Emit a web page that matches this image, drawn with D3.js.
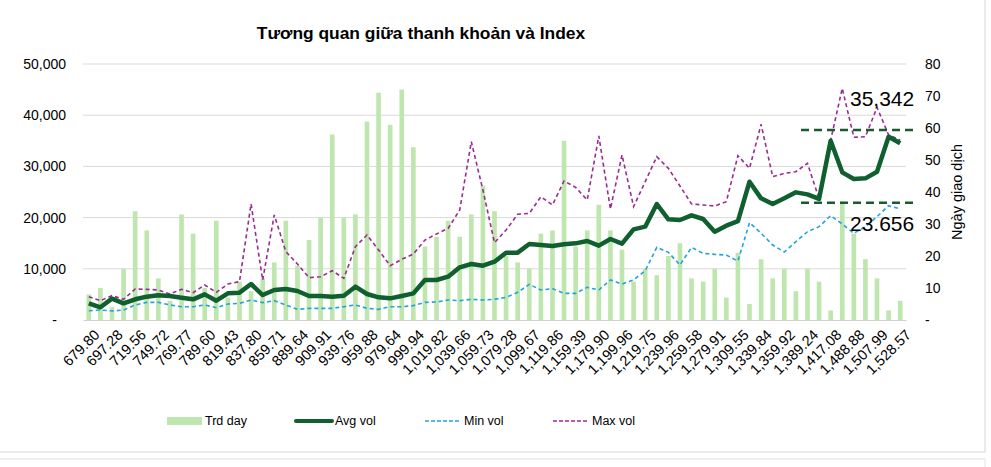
<!DOCTYPE html>
<html>
<head>
<meta charset="utf-8">
<script src="https://cdnjs.cloudflare.com/ajax/libs/d3/7.8.5/d3.min.js"></script>
<style>
  body { margin: 0; background: #fff; font-family: "Liberation Sans", Arial, sans-serif; }
  svg text { fill: #000; }
</style>
</head>
<body>
<svg id="chart" width="991" height="467"></svg>
<script>
// liquidity vs index level

// index level shown under every other bar (71 bars)
var tickLabels = ['679.80', '697.28', '719.56', '749.72', '769.77', '789.60', '819.43', '837.80',
  '859.71', '889.64', '909.91', '939.76', '959.88', '979.64', '999.94', '1,019.82', '1,039.66',
  '1,059.73', '1,079.28', '1,099.67', '1,119.86', '1,159.39', '1,179.90', '1,199.96', '1,219.75',
  '1,239.96', '1,259.58', '1,279.91', '1,309.55', '1,339.84', '1,359.92', '1,389.24', '1,417.08',
  '1,488.88', '1,507.99', '1,528.57'];

// trading days per bucket (right axis)
var trdDay = [8, 10, 4, 16, 34, 28, 13, 6, 33, 27, 10, 31, 7, 12, 9, 13, 18, 31, 17, 25,
  32, 58, 32, 33, 62, 71, 61, 72, 54, 23, 26, 31, 26, 33, 42, 34, 20, 18, 16, 27,
  28, 56, 23, 28, 36, 28, 22, 12, 16, 14, 20, 24, 13, 12, 16, 7, 21, 5, 19, 13,
  16, 9, 16, 12, 3, 37, 27, 19, 13, 3, 6];

// volumes (left axis)
var avgVol = [3260, 2480, 4170, 3260, 4040, 4560, 4820, 4690, 4360, 4040, 5010, 3770, 5210, 5340,
  7030, 4880, 5860, 6050, 5660, 4690, 4690, 4560, 4750, 6510, 5080, 4430, 4230, 4690, 5200,
  7810, 7810, 8460, 10290, 10940, 10610, 11390, 13150, 13150, 14840, 14650, 14450, 14780,
  14970, 15430, 14520, 15820, 14910, 17710, 18230, 22660, 19660, 19530, 20440, 19730, 17250,
  18430, 19300, 27010, 23760, 22660, 23760, 24930, 24540, 23656, 35020, 28840, 27540, 27670,
  28970, 35800, 34510];

var minVol = [1820, 1950, 1760, 1950, 2930, 3450, 3450, 2930, 2600, 2600, 2930, 2410, 3120, 3250,
  3910, 3390, 3780, 2930, 2080, 2280, 2280, 2280, 2600, 2930, 2280, 2080, 2600, 2600, 2800,
  3450, 3520, 3910, 3780, 4040, 3910, 4040, 4430, 5400, 6970, 5860, 6120, 5210,
  5210, 6380, 5860, 7810, 7030, 7810, 9630, 14190, 13220, 10740, 14190, 13020, 12820,
  12690, 11500, 19010, 16930, 14650, 13280, 15300, 17250, 18230, 20380, 18750, 16930, 18230,
  20180, 22330, 21680];

var maxVol = [4560, 3780, 4750, 4040, 6050, 5990, 5860, 5080, 5990, 5340, 6840, 5400, 7030, 7490,
  22660, 7810, 20510, 13350, 10940, 8270, 8460, 9630, 8140, 14320, 16600, 13670, 10610, 11850,
  12890, 15620, 16800, 17900, 21480, 34830, 25390, 15100, 17580, 20640, 20830, 24090, 22460,
  27150, 25910, 23440, 35940, 21680, 32230, 22140, 27010, 31900, 29620, 26170, 22660, 22460,
  22270, 23110, 32100, 29620, 38220, 27990, 28640, 28970, 30600, 23700, 35100, 45250, 35680,
  35800, 41540, 36130, 35160];

// dashed reference levels and their notes
var refLevels = [37100, 22900];
var refNotes = ['35,342', '23.656'];

var seriesNames = ['Trd day', 'Avg vol', 'Min vol', 'Max vol'];

var svg = d3.select('#chart');
var plotLeft = 83, plotRight = 906, plotTop = 64, plotBottom = 320;

// frame of the card
svg.append('rect').attr('x', -2).attr('y', -2).attr('width', 987).attr('height', 454)
  .attr('fill', 'none').attr('stroke', '#d6d6d6');
svg.append('rect').attr('x', -2).attr('y', 459).attr('width', 987).attr('height', 20)
  .attr('fill', 'none').attr('stroke', '#e2e2e2');

var x = d3.scaleBand().domain(d3.range(trdDay.length)).range([plotLeft, plotRight])
  .paddingInner(0.6).paddingOuter(0.3);
var yL = d3.scaleLinear().domain([0, 50000]).range([plotBottom, plotTop]);
var yR = d3.scaleLinear().domain([0, 80]).range([plotBottom, plotTop]);
var cx = function(i) { return x(i) + x.bandwidth() / 2; };

// gridlines
svg.append('g').selectAll('line').data(d3.range(10000, 50001, 10000)).join('line')
  .attr('x1', plotLeft).attr('x2', plotRight)
  .attr('y1', d => yL(d)).attr('y2', d => yL(d))
  .attr('stroke', '#d9d9d9').attr('stroke-width', 1);

// left axis
var gL = svg.append('g').attr('transform', 'translate(' + plotLeft + ',0)')
  .call(d3.axisLeft(yL).tickValues(d3.range(0, 50001, 10000)).tickSize(0).tickPadding(17)
    .tickFormat(d => d === 0 ? '-' : d3.format(',')(d)));
gL.select('.domain').remove();
gL.selectAll('text').style('font-size', '14px').style('font-family', 'Liberation Sans, Arial');
gL.selectAll('.tick').filter(d => d === 0).select('text').attr('x', -26);

// right axis
var gR = svg.append('g').attr('transform', 'translate(' + plotRight + ',0)')
  .call(d3.axisRight(yR).tickValues(d3.range(0, 81, 10)).tickSize(0).tickPadding(19)
    .tickFormat(d => d === 0 ? '-' : d));
gR.select('.domain').remove();
gR.selectAll('text').style('font-size', '14px').style('font-family', 'Liberation Sans, Arial');

svg.append('text')
  .attr('transform', 'translate(962,192) rotate(-90)')
  .attr('text-anchor', 'middle')
  .style('font-size', '14.5px')
  .text('Ngày giao dịch');

// bars: trading days
svg.append('g').selectAll('rect').data(trdDay).join('rect')
  .attr('x', (d, i) => x(i))
  .attr('width', x.bandwidth())
  .attr('y', d => yR(d))
  .attr('height', d => plotBottom - yR(d))
  .attr('fill', '#bfe6ae');

// bottom axis
var gX = svg.append('g').attr('transform', 'translate(0,' + plotBottom + ')')
  .call(d3.axisBottom(x).tickValues(d3.range(0, trdDay.length, 2)).tickSize(0)
    .tickFormat(i => tickLabels[i / 2]));
gX.select('.domain').attr('stroke', '#d0d0d0');
gX.selectAll('text')
  .style('font-size', '14.5px').style('font-family', 'Liberation Sans, Arial')
  .attr('text-anchor', 'end')
  .attr('x', 0).attr('y', 0).attr('dy', '0.75em')
  .attr('transform', 'translate(4,8) rotate(-45)');

// lines
var lineL = d3.line().x((d, i) => cx(i)).y(d => yL(d));

svg.append('path').datum(minVol).attr('d', lineL)
  .attr('fill', 'none').attr('stroke', '#23a3dd').attr('stroke-width', 1.6)
  .attr('stroke-dasharray', '4,3');
svg.append('path').datum(maxVol).attr('d', lineL)
  .attr('fill', 'none').attr('stroke', '#9a2b93').attr('stroke-width', 1.6)
  .attr('stroke-dasharray', '4,3');
svg.append('path').datum(avgVol).attr('d', lineL)
  .attr('fill', 'none').attr('stroke', '#0f5f2f').attr('stroke-width', 4.5)
  .attr('stroke-linejoin', 'round');

// reference levels
svg.append('g').selectAll('line').data(refLevels).join('line')
  .attr('x1', 801).attr('x2', 918)
  .attr('y1', d => yL(d)).attr('y2', d => yL(d))
  .attr('stroke', '#1b5a30').attr('stroke-width', 2.5).attr('stroke-dasharray', '8,5');

svg.append('g').selectAll('text').data(refNotes).join('text')
  .attr('x', 850)
  .attr('y', (d, i) => i === 0 ? 106 : 231)
  .style('font-size', '21px')
  .text(d => d);

// title
svg.append('text').attr('x', 421).attr('y', 39).attr('text-anchor', 'middle')
  .style('font-size', '17.4px').style('font-weight', 'bold')
  .text('Tương quan giữa thanh khoản và Index');

// legend
var legendX = [167, 296, 425, 553];
var lg = svg.append('g').selectAll('g').data(seriesNames).join('g')
  .attr('transform', (d, i) => 'translate(' + legendX[i] + ',421)');
lg.each(function(d, i) {
  var g = d3.select(this);
  if (i === 0) {
    g.append('rect').attr('x', 0).attr('y', -4).attr('width', 35).attr('height', 8).attr('fill', '#bfe6ae');
  } else {
    g.append('line').attr('x1', 0).attr('x2', 36).attr('y1', 0).attr('y2', 0)
      .attr('stroke', ['', '#0f5f2f', '#23a3dd', '#9a2b93'][i])
      .attr('stroke-width', i === 1 ? 4 : 1.6)
      .attr('stroke-linecap', i === 1 ? 'round' : 'butt')
      .attr('stroke-dasharray', i === 1 ? null : '4,2');
  }
  g.append('text').attr('x', i === 0 ? 38 : 39).attr('y', 4)
    .style('font-size', '12.5px').text(d);
});
</script>
</body>
</html>
